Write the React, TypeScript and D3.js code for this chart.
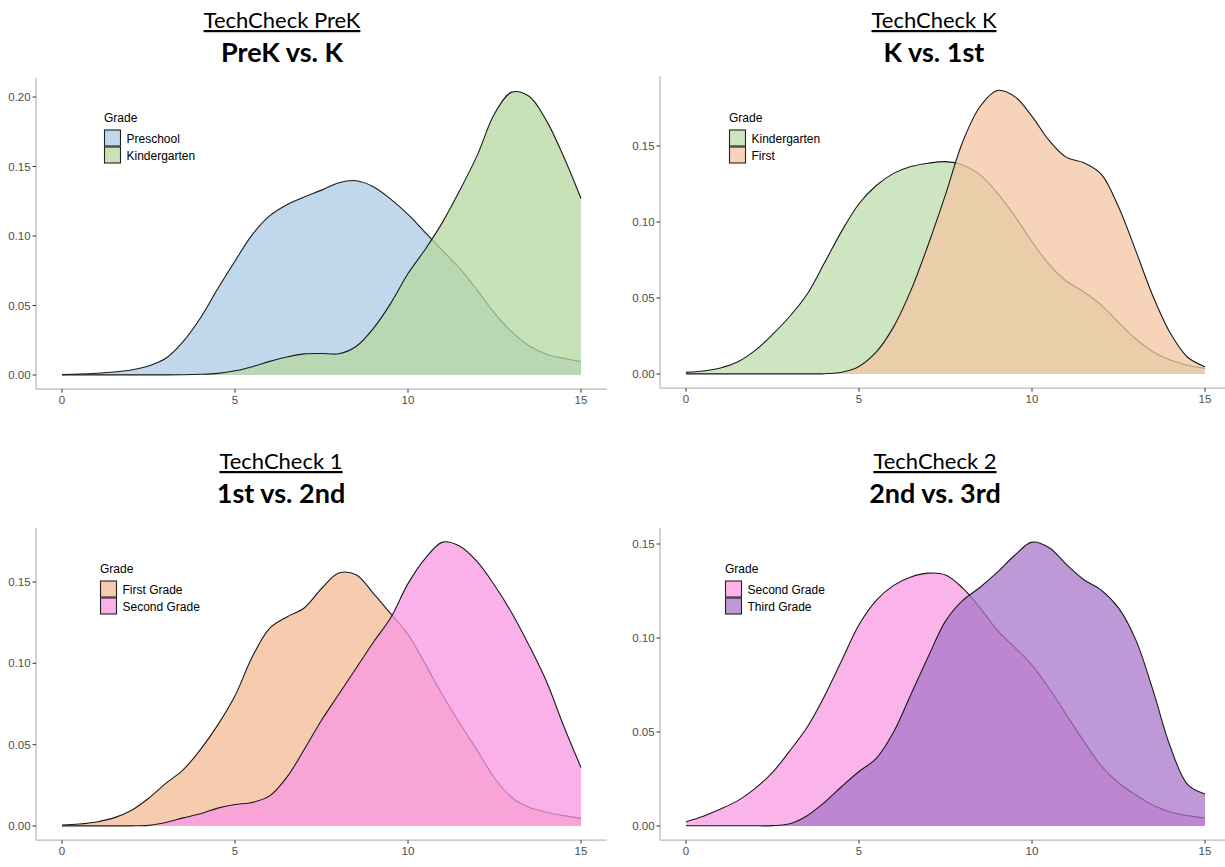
import React from "react";
import * as d3 from "d3";

// ---------- data (density estimates) ----------
const GRID = [0, 0.5, 1, 1.5, 2, 2.5, 3, 3.5, 4, 4.5, 5, 5.5, 6, 6.5, 7, 7.5, 8, 8.5, 9, 9.5, 10, 10.5, 11, 11.5, 12, 12.5, 13, 13.5, 14, 14.5, 15];

const X_TICKS = [0, 5, 10, 15];
const Y_TICKS_A = [0, 0.05, 0.1, 0.15, 0.2];
const Y_TICKS_B = [0, 0.05, 0.1, 0.15];

// Panel 1: TechCheck PreK
const P1_PRESCHOOL = [0.0003, 0.0007, 0.0013, 0.0022, 0.0036, 0.0065, 0.012, 0.024, 0.041, 0.062, 0.082, 0.101, 0.1145, 0.1225, 0.128, 0.133, 0.1383, 0.1398, 0.1355, 0.1265, 0.1155, 0.1025, 0.0895, 0.0765, 0.061, 0.0445, 0.031, 0.021, 0.015, 0.012, 0.0096];
const P1_KINDER = [0.0001, 0.0001, 0.0001, 0.0001, 0.0001, 0.0001, 0.0001, 0.0002, 0.0005, 0.0012, 0.003, 0.006, 0.0098, 0.013, 0.0152, 0.0155, 0.0153, 0.0205, 0.0335, 0.0515, 0.073, 0.0905, 0.11, 0.133, 0.158, 0.188, 0.2035, 0.2005, 0.183, 0.157, 0.127];

// Panel 2: TechCheck K
const P2_KINDER = [0.0011, 0.002, 0.004, 0.008, 0.0155, 0.026, 0.038, 0.0525, 0.073, 0.094, 0.112, 0.124, 0.132, 0.1365, 0.1387, 0.1397, 0.1375, 0.131, 0.119, 0.104, 0.087, 0.072, 0.061, 0.054, 0.0455, 0.034, 0.023, 0.0147, 0.0092, 0.0058, 0.0037];
const P2_FIRST = [0.0001, 0.0001, 0.0001, 0.0001, 0.0001, 0.0001, 0.0001, 0.0001, 0.0002, 0.0012, 0.005, 0.0145, 0.031, 0.055, 0.085, 0.118, 0.153, 0.176, 0.1865, 0.1825, 0.1695, 0.1535, 0.1425, 0.139, 0.1315, 0.11, 0.081, 0.051, 0.0268, 0.011, 0.0048];

// Panel 3: TechCheck 1
const P3_FIRST = [0.0006, 0.0012, 0.0025, 0.005, 0.0095, 0.017, 0.0262, 0.0345, 0.047, 0.062, 0.08, 0.104, 0.1215, 0.1285, 0.134, 0.146, 0.1555, 0.1545, 0.143, 0.1305, 0.1178, 0.0995, 0.0805, 0.063, 0.0465, 0.0295, 0.0175, 0.0115, 0.0085, 0.0064, 0.0047];
const P3_SECOND = [0.0001, 0.0001, 0.0001, 0.0001, 0.0001, 0.0004, 0.0022, 0.005, 0.0075, 0.011, 0.0132, 0.0145, 0.0185, 0.03, 0.047, 0.065, 0.081, 0.097, 0.113, 0.128, 0.149, 0.1645, 0.1745, 0.172, 0.1625, 0.148, 0.131, 0.111, 0.089, 0.0615, 0.036];

// Panel 4: TechCheck 2
const P4_SECOND = [0.0023, 0.0052, 0.009, 0.0135, 0.02, 0.0285, 0.04, 0.0525, 0.069, 0.088, 0.107, 0.12, 0.128, 0.1325, 0.1345, 0.1335, 0.1265, 0.116, 0.104, 0.095, 0.0856, 0.073, 0.059, 0.045, 0.032, 0.023, 0.0165, 0.011, 0.0074, 0.0055, 0.0043];
const P4_THIRD = [0.0001, 0.0001, 0.0001, 0.0001, 0.0001, 0.0002, 0.0012, 0.0055, 0.0125, 0.021, 0.029, 0.036, 0.05, 0.07, 0.09, 0.109, 0.12, 0.127, 0.135, 0.144, 0.151, 0.148, 0.139, 0.131, 0.1255, 0.116, 0.099, 0.072, 0.042, 0.022, 0.017];

// ---------- layout / styling ----------
type Series = { name: string; values: number[]; color: string };
type Panel = {
  title: string;
  subtitle: string;
  series: Series[];
  yTicks: number[];
  x0: number; x15: number;
  zeroY: number; refVal: number; refY: number;
  legendX: number; legendY: number;
  cx: number; titleY: number; subY: number;
};

const PANELS: Panel[] = [
  {
    title: "TechCheck PreK", subtitle: "PreK vs. K",
    series: [
      { name: "Preschool", values: P1_PRESCHOOL, color: "rgb(171,202,230)" },
      { name: "Kindergarten", values: P1_KINDER, color: "rgb(182,216,160)" },
    ],
    yTicks: Y_TICKS_A, x0: 62, x15: 581, zeroY: 375, refVal: 0.2, refY: 97,
    legendX: 104, legendY: 122, cx: 282, titleY: 28, subY: 62,
  },
  {
    title: "TechCheck K", subtitle: "K vs. 1st",
    series: [
      { name: "Kindergarten", values: P2_KINDER, color: "rgb(188,220,171)" },
      { name: "First", values: P2_FIRST, color: "rgb(243,196,162)" },
    ],
    yTicks: Y_TICKS_B, x0: 686, x15: 1205, zeroY: 374, refVal: 0.15, refY: 146,
    legendX: 729, legendY: 122, cx: 934, titleY: 28, subY: 62,
  },
  {
    title: "TechCheck 1", subtitle: "1st vs. 2nd",
    series: [
      { name: "First Grade", values: P3_FIRST, color: "rgb(244,187,147)" },
      { name: "Second Grade", values: P3_SECOND, color: "rgb(248,151,227)" },
    ],
    yTicks: Y_TICKS_B, x0: 62, x15: 581, zeroY: 826, refVal: 0.15, refY: 582,
    legendX: 100, legendY: 573, cx: 281, titleY: 469, subY: 503,
  },
  {
    title: "TechCheck 2", subtitle: "2nd vs. 3rd",
    series: [
      { name: "Second Grade", values: P4_SECOND, color: "rgb(248,155,227)" },
      { name: "Third Grade", values: P4_THIRD, color: "rgb(170,118,203)" },
    ],
    yTicks: Y_TICKS_B, x0: 686, x15: 1205, zeroY: 826, refVal: 0.15, refY: 544,
    legendX: 725, legendY: 573, cx: 935, titleY: 469, subY: 503,
  },
];

const ALPHA = 0.75;
const AXIS_FONT = "'Liberation Sans', Arial, sans-serif";
const TITLE_FONT = "Lato, 'Open Sans', sans-serif";
const CURVE = d3.curveCatmullRom.alpha(0.5);

function PanelView({ p }: { p: Panel }) {
  const x = d3.scaleLinear().domain([0, 15]).range([p.x0, p.x15]);
  const y = d3.scaleLinear().domain([0, p.refVal]).range([p.zeroY, p.refY]);
  const ymax = d3.max(p.series.flatMap((s) => s.values)) as number;
  const yLo = y(-0.05 * ymax);
  const yHi = y(1.05 * ymax);
  const xLo = x(-0.75);
  const xHi = x(15.75);

  const area = d3
    .area<number>()
    .x((_, i) => x(GRID[i]))
    .y0(y(0))
    .y1((d) => y(d))
    .curve(CURVE);
  const line = d3
    .line<number>()
    .x((_, i) => x(GRID[i]))
    .y((d) => y(d))
    .curve(CURVE);

  const axisColor = "#b8b8b8";
  const tickColor = "#4d4d4d";

  return (
    <g>
      {/* titles */}
      <text x={p.cx} y={p.titleY} textAnchor="middle" fontFamily={TITLE_FONT} fontSize={22}
        fill="#000" textDecoration="underline">{p.title}</text>
      <text x={p.cx} y={p.subY} textAnchor="middle" fontFamily={TITLE_FONT} fontSize={27}
        fontWeight={700} fill="#000">{p.subtitle}</text>

      {/* densities */}
      {p.series.map((s) => (
        <g key={s.name}>
          <path d={area(s.values) as string} fill={s.color} fillOpacity={ALPHA} stroke="none" />
          <path d={line(s.values) as string} fill="none" stroke="#1a1a1a" strokeWidth={1.1} />
        </g>
      ))}

      {/* axes */}
      <line x1={xLo} x2={xHi} y1={yLo} y2={yLo} stroke={axisColor} strokeWidth={1.2} />
      <line x1={xLo} x2={xLo} y1={yLo} y2={yHi} stroke={axisColor} strokeWidth={1.2} />
      {X_TICKS.map((t) => (
        <g key={"x" + t}>
          <line x1={x(t)} x2={x(t)} y1={yLo} y2={yLo + 3.5} stroke="#333" strokeWidth={1} />
          <text x={x(t)} y={yLo + 15} textAnchor="middle" fontFamily={AXIS_FONT} fontSize={11.5}
            fill={tickColor}>{t}</text>
        </g>
      ))}
      {p.yTicks.map((t) => (
        <g key={"y" + t}>
          <line x1={xLo - 3.5} x2={xLo} y1={y(t)} y2={y(t)} stroke="#333" strokeWidth={1} />
          <text x={xLo - 5.5} y={y(t)} dy="0.35em" textAnchor="end" fontFamily={AXIS_FONT}
            fontSize={11.5} fill={tickColor}>{d3.format(".2f")(t)}</text>
        </g>
      ))}

      {/* legend */}
      <text x={p.legendX} y={p.legendY} fontFamily={AXIS_FONT} fontSize={12} fill="#000">Grade</text>
      {p.series.map((s, i) => (
        <g key={"l" + s.name}>
          <rect x={p.legendX + 0.5} y={p.legendY + 8 + i * 17} width={16} height={16}
            fill={s.color} fillOpacity={ALPHA} stroke="#222" strokeWidth={1.1} />
          <text x={p.legendX + 22.5} y={p.legendY + 8 + i * 17 + 12.5} fontFamily={AXIS_FONT}
            fontSize={12} fill="#000">{s.name}</text>
        </g>
      ))}
    </g>
  );
}

export default function App() {
  return (
    <div style={{ position: "absolute", left: 0, top: 0 }}>
      <svg width={1225} height={867} style={{ display: "block", background: "#fff" }}>
        <rect width={1225} height={867} fill="#fff" />
        {PANELS.map((p) => (
          <PanelView key={p.title} p={p} />
        ))}
      </svg>
    </div>
  );
}
